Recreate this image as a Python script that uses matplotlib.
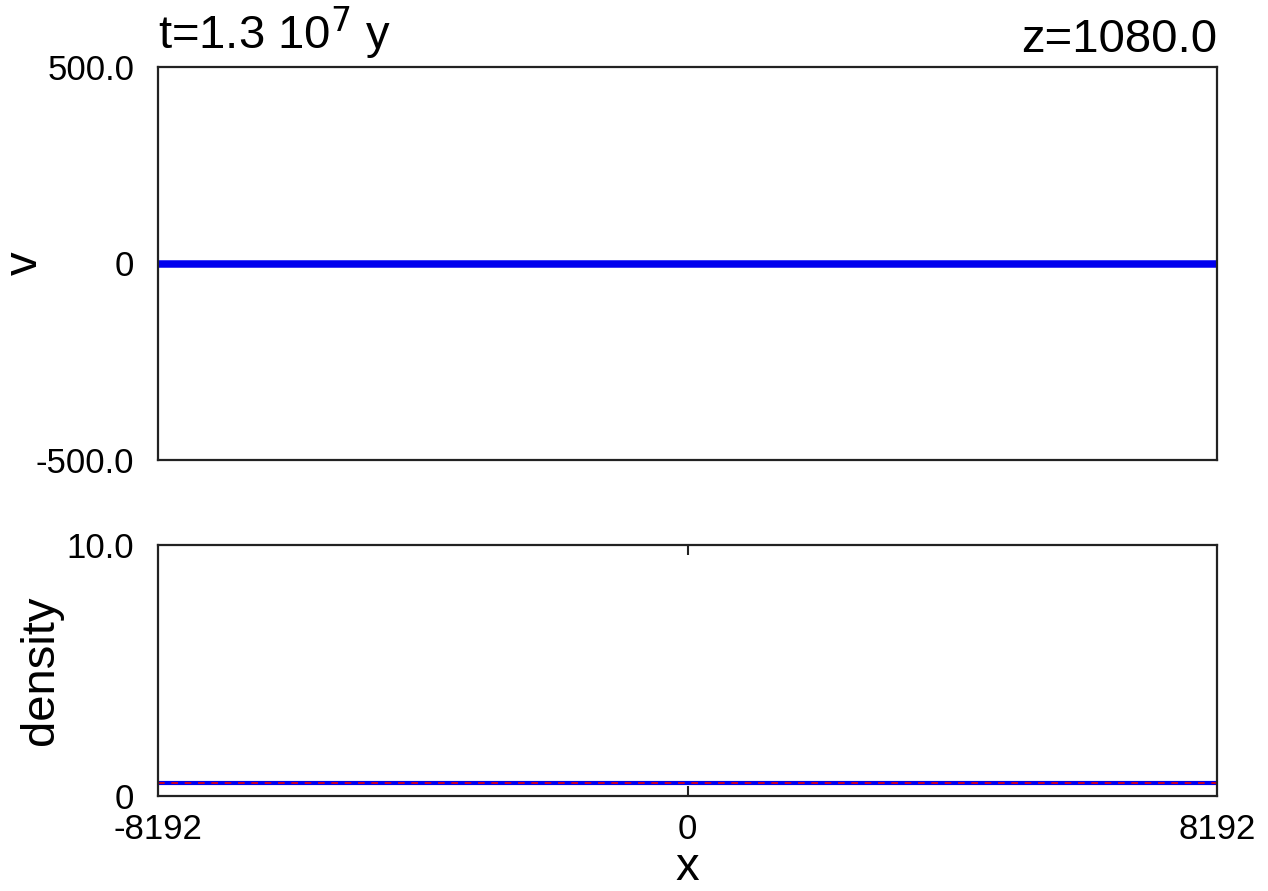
import matplotlib
matplotlib.use("Agg")
import matplotlib.pyplot as plt

plt.rcParams['font.family'] = ['Liberation Sans', 'DejaVu Sans']

# particle snapshot (all at rest) and density profile
x_pos = [-8192, -4096, 0, 4096, 8192]
v_vals = [0.0, 0.0, 0.0, 0.0, 0.0]
dens_vals = [0.5, 0.5, 0.5, 0.5, 0.5]

x_ticks = [-8192, 0, 8192]
v_ticks = [-500, 0, 500]
v_labels = ['-500.0', '0', '500.0']
d_ticks = [0, 10]
d_labels = ['0', '10.0']

fig = plt.figure(figsize=(12.68, 8.91), dpi=100)
ax1 = fig.add_axes([158 / 1268, 1 - 460 / 891, 1059 / 1268, 393 / 891])
ax2 = fig.add_axes([158 / 1268, 1 - 796 / 891, 1059 / 1268, 251 / 891])

for ax in (ax1, ax2):
    for s in ax.spines.values():
        s.set_linewidth(1.6)
        s.set_color('#222222')
    ax.set_xlim(-8192, 8192)

# top: velocity
ax1.plot(x_pos, v_vals, color='#0000ee', lw=5.4, solid_capstyle='butt')
ax1.set_ylim(-500, 500)
ax1.set_yticks(v_ticks)
ax1.set_yticklabels(v_labels)
ax1.set_xticks([])
ax1.tick_params(axis='y', length=0, pad=17, labelsize=25)
ax1.set_ylabel('v', fontsize=34)
ax1.yaxis.set_label_coords(-0.105, 0.5)
ax1.text(0, 1.012, 't=1.3 10$^{7}$ y', transform=ax1.transAxes,
         ha='left', va='bottom', fontsize=34)
ax1.text(1, 1.012, 'z=1080.0', transform=ax1.transAxes,
         ha='right', va='bottom', fontsize=34)

# bottom: density
ax2.plot(x_pos, dens_vals, color='#0000ee', lw=3)
ax2.plot(x_pos, dens_vals, color='#ee0000', lw=1.2, ls=(0, (4, 4)))
ax2.set_ylim(0, 10)
ax2.set_yticks(d_ticks)
ax2.set_yticklabels(d_labels)
ax2.set_xticks(x_ticks)
ax2.set_xticklabels(['-8192', '0', '8192'])
ax2.tick_params(axis='y', length=0, pad=17, labelsize=25)
ax2.tick_params(axis='x', direction='in', length=7, width=1.5, top=True,
                labelsize=25, pad=12, color='#222222')
xt = ax2.get_xticklines()
for i, ln in enumerate(xt):
    if i // 2 != 1:
        ln.set_visible(False)
ax2.set_ylabel('density', fontsize=34)
ax2.yaxis.set_label_coords(-0.09, 0.5)
ax2.set_xlabel('x', fontsize=34, labelpad=0)

fig.savefig('out.png', dpi=100)
